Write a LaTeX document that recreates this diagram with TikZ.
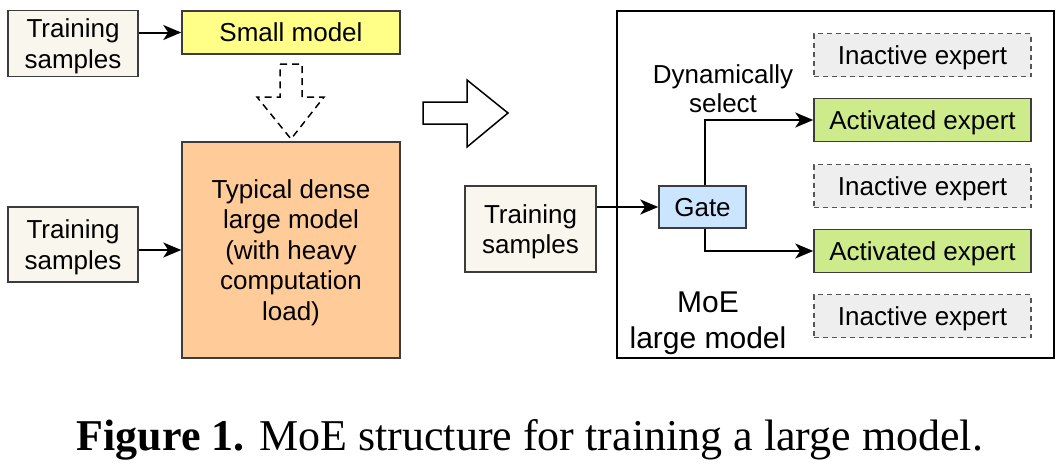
\documentclass[tikz,border=0pt]{standalone}
\usepackage{fontspec}
\setmainfont{Liberation Sans}
\newfontfamily\capfont{Liberation Serif}
\usetikzlibrary{arrows.meta}

\definecolor{boxline}{HTML}{3C3C3C}
\definecolor{samplefill}{HTML}{F9F7ED}
\definecolor{smallfill}{HTML}{FFFF88}
\definecolor{densefill}{HTML}{FFCC99}
\definecolor{gatefill}{HTML}{CCE5FF}
\definecolor{activefill}{HTML}{CDEB8B}
\definecolor{idlefill}{HTML}{EEEEEE}
\definecolor{idleline}{HTML}{555555}

\tikzset{every picture/.style={line width=1pt}}
\tikzset{
  block/.style={draw=boxline, line width=1.5pt, inner sep=0pt, align=center,
    text depth=0pt, font=\fontsize{26}{30.5}\selectfont},
  samplebox/.style={block, fill=samplefill, minimum width=130pt, minimum height=66pt},
  expertbox/.style={block, minimum width=217pt, minimum height=43pt},
  idlebox/.style={expertbox, fill=idlefill, draw=idleline, dash pattern=on 5pt off 4pt},
  activebox/.style={expertbox, fill=activefill},
  feed/.style={line width=2pt, -{Stealth[length=18pt,width=15pt,inset=5pt]}},
}

\begin{document}
\begin{tikzpicture}[x=1pt,y=1pt,yscale=-1,xscale=1]
\useasboundingbox (0,0) rectangle (1062,469);

%Shape: Rectangle [MoE frame]
\node [draw=black, line width=2pt, minimum width=437pt, minimum height=347pt, inner sep=0pt] (moe) at (835.5,184.5) {};

% Left part
\node [samplebox] (tsa) at (73,43.5) {Training\\samples};
\node [block, fill=smallfill, minimum width=218pt, minimum height=43pt] (small) at (291,32.5) {Small model};
\node [samplebox, minimum height=75pt] (tsb) at (73,244.5) {Training\\samples};
\node [block, fill=densefill, minimum width=218pt, minimum height=216pt] (dense) at (291,250) {Typical dense\\large model\\(with heavy\\computation\\load)};

%Shape: Dashed down arrow
\draw [line width=1.5pt, dash pattern=on 7pt off 5pt] (280,64) -- (302,64) -- (302,97) -- (324,97) -- (291,139) -- (257,97) -- (280,97) -- cycle ;
%Shape: Hollow right arrow
\draw [line width=1.5pt, line join=miter] (423,102) -- (467,102) -- (467,80) -- (508,113) -- (467,147) -- (467,124) -- (423,124) -- cycle ;

% Right part
\node [samplebox, minimum width=131pt, minimum height=86pt] (tsc) at (530.5,229) {Training\\samples};
\node [block, fill=gatefill, minimum width=87pt, minimum height=42pt] (gate) at (702.5,207) {Gate};

\node [idlebox] (expa) at (922.5,55) {Inactive expert};
\node [activebox] (expb) at (922.5,120) {Activated expert};
\node [idlebox] (expc) at (922.5,186) {Inactive expert};
\node [activebox] (expd) at (922.5,251) {Activated expert};
\node [idlebox] (expe) at (922.5,316) {Inactive expert};

% Text Node
\node [align=center, text depth=0pt, font=\fontsize{26}{29}\selectfont] (dyn) at (723,89) {Dynamically\\select};
% Text Node
\node [align=center, text depth=0pt, font=\fontsize{30}{36}\selectfont] (moelabel) at (708,320) {MoE\\large model};

% Connectors
\draw [feed] (tsa.east |- small.west) -- (small.west);
\draw [feed] (tsb.east |- dense.west) -- (dense.west);
\draw [feed] (tsc.east |- gate.west) -- (gate.west);
\draw [feed] ([xshift=2.5pt]gate.north) |- (expb.west);
\draw [feed] ([xshift=2.5pt]gate.south) |- (expd.west);

% Caption
\node [font=\capfont\fontsize{44}{50}\selectfont] (caption) at (530,440) {\textbf{Figure 1.} MoE structure for training a large model.};

\end{tikzpicture}
\end{document}
